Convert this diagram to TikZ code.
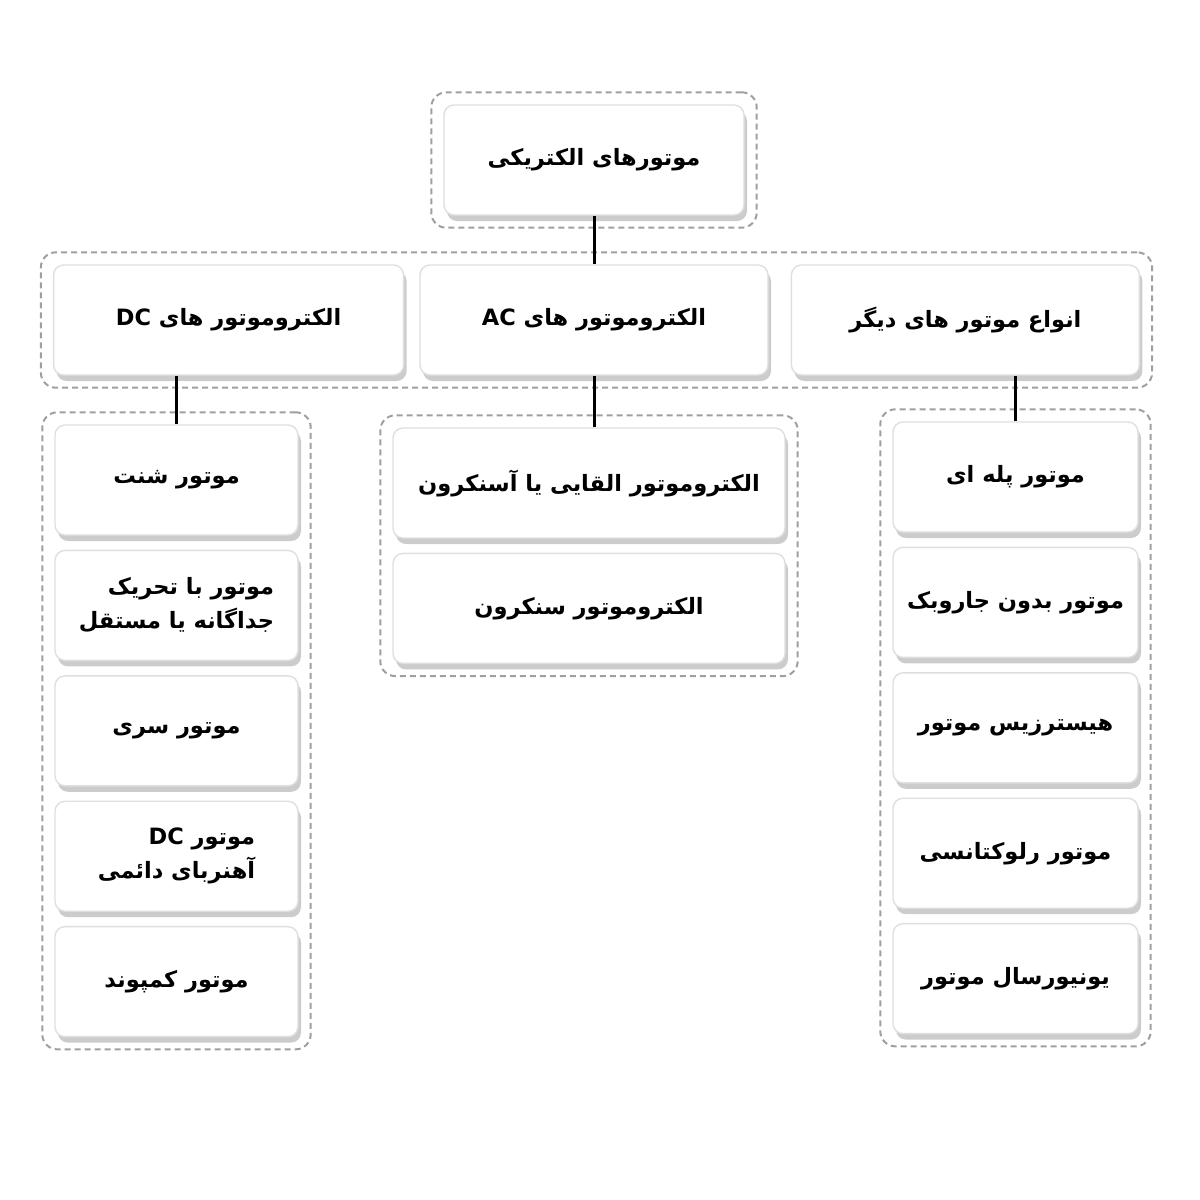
\documentclass[tikz,border=0pt]{standalone}
\usepackage{fontspec}
\newfontfamily\arabicfont[Script=Arabic]{DejaVu Sans}
\TeXXeTstate=1
\usetikzlibrary{positioning,fit,shadows}

\newcommand{\fa}[1]{\beginR #1\endR}

\begin{document}
\begin{tikzpicture}[node distance=0.14cm, b/.style={draw=gray!25, fill=white, rounded corners=0.1cm, minimum height=1.1cm, inner xsep=0.05cm, align=center, font=\arabicfont\bfseries\fontsize{6.4}{9.7}\selectfont, drop shadow={shadow xshift=0.03cm, shadow yshift=-0.06cm, opacity=0.4}}, g/.style={draw=gray!75, line width=0.02cm, dash pattern=on 0.06cm off 0.04cm, rounded corners=0.15cm, inner sep=0.12cm}, l/.style={line width=0.03cm}]
		\useasboundingbox (0,0) rectangle (12,-12);

		\node[b, minimum width=3.0cm] (T) at (5.94,-1.60) {\fa{موتورهای الکتریکی}};
		\node[b, minimum width=3.48cm] (AC) at (5.94,-3.20) {\fa{الکتروموتور های \beginL AC\endL}};
		\node[b, minimum width=3.5cm, left=0.15cm of AC] (DC) {\fa{الکتروموتور های \beginL DC\endL}};
		\node[b, minimum width=3.48cm, right=0.22cm of AC] (O) {\fa{انواع موتور های دیگر}};

		\node[b, minimum width=2.43cm] (L1) at (1.765,-4.80) {\fa{موتور شنت}};
		\node[b, minimum width=2.43cm, align=right, below=of L1] (L2) {\fa{موتور با تحریک}\\\fa{جداگانه یا مستقل}};
		\node[b, minimum width=2.43cm, below=of L2] (L3) {\fa{موتور سری}};
		\node[b, minimum width=2.43cm, align=right, below=of L3] (L4) {\fa{موتور \beginL DC\endL}\\\fa{آهنربای دائمی}};
		\node[b, minimum width=2.43cm, below=of L4] (L5) {\fa{موتور کمپوند}};

		\node[b, minimum width=3.92cm] (M1) at (5.89,-4.83) {\fa{الکتروموتور القایی یا آسنکرون}};
		\node[b, minimum width=3.92cm, below=of M1] (M2) {\fa{الکتروموتور سنکرون}};

		\node[b, minimum width=2.45cm] (R1) at (10.155,-4.77) {\fa{موتور پله ای}};
		\node[b, minimum width=2.45cm, below=of R1] (R2) {\fa{موتور بدون جاروبک}};
		\node[b, minimum width=2.45cm, below=of R2] (R3) {\fa{هیسترزیس موتور}};
		\node[b, minimum width=2.45cm, below=of R3] (R4) {\fa{موتور رلوکتانسی}};
		\node[b, minimum width=2.45cm, below=of R4] (R5) {\fa{یونیورسال موتور}};

		\node[g, fit=(T)] (gT) {};
		\node[g, fit=(DC) (AC) (O)] (gRow) {};
		\node[g, fit=(L1) (L5)] (gL) {};
		\node[g, fit=(M1) (M2)] (gM) {};
		\node[g, fit=(R1) (R5)] (gR) {};

		\draw[l] (T) -- (AC);
		\draw[l] (L1.north |- DC.south) -- (L1.north);
		\draw[l] (AC.south) -- (AC.south |- M1.north);
		\draw[l] (R1.north |- O.south) -- (R1.north);
	\end{tikzpicture}
\end{document}
